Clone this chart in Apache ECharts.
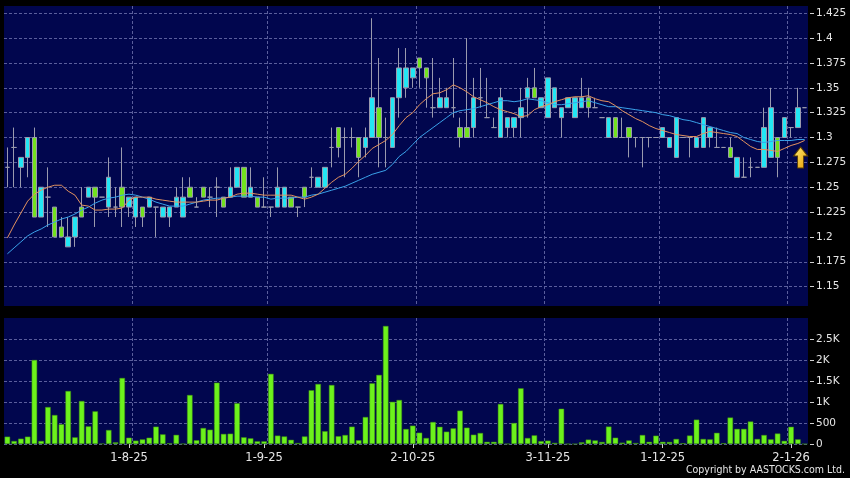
<!DOCTYPE html>
<html><head><meta charset="utf-8">
<script src="https://cdn.jsdelivr.net/npm/echarts@6/dist/echarts.min.js"></script>
<style>html,body{margin:0;padding:0;background:#000;}#c{width:850px;height:478px;}</style>
</head><body><div id="c"></div>
<script>
const dates = [
'8-7-25','9-7-25','10-7-25','11-7-25','14-7-25','15-7-25','16-7-25','17-7-25','18-7-25','21-7-25','22-7-25','23-7-25','24-7-25','25-7-25','28-7-25','29-7-25','30-7-25','31-7-25',
'1-8-25','4-8-25','5-8-25','6-8-25','7-8-25','8-8-25','11-8-25','12-8-25','13-8-25','14-8-25','15-8-25','18-8-25','20-8-25','21-8-25','22-8-25','25-8-25','26-8-25','27-8-25','28-8-25','29-8-25',
'1-9-25','2-9-25','3-9-25','4-9-25','5-9-25','8-9-25','9-9-25','10-9-25','11-9-25','12-9-25','15-9-25','16-9-25','17-9-25','18-9-25','19-9-25','22-9-25','23-9-25','24-9-25','25-9-25','26-9-25','29-9-25','30-9-25',
'2-10-25','3-10-25','6-10-25','8-10-25','9-10-25','10-10-25','13-10-25','14-10-25','15-10-25','16-10-25','17-10-25','20-10-25','21-10-25','22-10-25','23-10-25','24-10-25','27-10-25','28-10-25','30-10-25','31-10-25',
'3-11-25','4-11-25','5-11-25','6-11-25','7-11-25','10-11-25','11-11-25','13-11-25','14-11-25','17-11-25','18-11-25','20-11-25','21-11-25','24-11-25','25-11-25','27-11-25','28-11-25',
'1-12-25','2-12-25','3-12-25','4-12-25','5-12-25','8-12-25','9-12-25','10-12-25','11-12-25','12-12-25','15-12-25','16-12-25','17-12-25','18-12-25','19-12-25','22-12-25','23-12-25','29-12-25','30-12-25',
'2-1-26','5-1-26','6-1-26'];

const opens = [
1.27,1.29,1.27,1.28,1.30,1.22,1.24,1.23,1.21,1.19,
1.20,1.23,1.24,1.25,1.24,1.23,1.23,1.25,1.23,1.22,
1.23,1.23,1.23,1.22,1.22,1.23,1.22,1.25,1.23,1.25,
1.24,1.25,1.24,1.24,1.25,1.27,1.24,1.24,1.23,1.23,
1.23,1.23,1.24,1.23,1.25,1.26,1.25,1.25,1.29,1.31,
1.30,1.30,1.30,1.29,1.30,1.33,1.30,1.29,1.34,1.35,
1.36,1.38,1.37,1.33,1.33,1.33,1.33,1.31,1.31,1.31,
1.34,1.32,1.31,1.30,1.31,1.31,1.32,1.34,1.35,1.33,
1.32,1.33,1.32,1.33,1.32,1.33,1.34,1.33,1.32,1.30,
1.32,1.30,1.31,1.30,1.30,1.30,1.30,1.30,1.29,1.28,
1.30,1.30,1.29,1.29,1.30,1.29,1.29,1.29,1.26,1.26,
1.27,1.27,1.27,1.28,1.30,1.30,1.31,1.31,1.33];

const closes = [
1.27,1.29,1.28,1.30,1.22,1.25,1.24,1.20,1.20,1.20,
1.22,1.22,1.25,1.24,1.24,1.26,1.23,1.23,1.24,1.24,
1.22,1.24,1.23,1.23,1.23,1.24,1.24,1.24,1.23,1.24,
1.24,1.25,1.23,1.25,1.27,1.24,1.25,1.23,1.23,1.23,
1.25,1.25,1.23,1.23,1.24,1.26,1.26,1.27,1.29,1.29,
1.30,1.30,1.28,1.30,1.34,1.30,1.30,1.34,1.37,1.37,
1.37,1.37,1.36,1.33,1.34,1.34,1.33,1.30,1.30,1.34,
1.34,1.32,1.31,1.34,1.32,1.32,1.33,1.35,1.34,1.34,
1.36,1.35,1.33,1.34,1.34,1.34,1.33,1.33,1.32,1.32,
1.30,1.30,1.30,1.30,1.30,1.30,1.30,1.31,1.30,1.32,
1.30,1.30,1.30,1.32,1.31,1.29,1.29,1.28,1.28,1.26,
1.27,1.27,1.31,1.33,1.28,1.32,1.31,1.33,1.33];

const lows = [
1.25,1.25,1.25,1.26,1.22,1.22,1.21,1.20,1.20,1.19,
1.19,1.22,1.24,1.21,1.24,1.22,1.22,1.21,1.22,1.21,
1.21,1.23,1.20,1.22,1.21,1.23,1.22,1.24,1.23,1.24,
1.23,1.22,1.23,1.24,1.25,1.24,1.24,1.23,1.23,1.22,
1.23,1.23,1.23,1.22,1.23,1.25,1.25,1.25,1.27,1.28,
1.26,1.29,1.26,1.28,1.30,1.27,1.27,1.29,1.32,1.34,
1.35,1.35,1.33,1.32,1.33,1.33,1.32,1.29,1.30,1.30,
1.33,1.32,1.31,1.30,1.30,1.30,1.30,1.32,1.34,1.33,
1.32,1.33,1.30,1.33,1.32,1.33,1.32,1.33,1.32,1.30,
1.30,1.30,1.28,1.29,1.27,1.29,1.30,1.30,1.29,1.28,
1.30,1.28,1.29,1.29,1.29,1.29,1.29,1.28,1.26,1.26,
1.26,1.27,1.27,1.28,1.26,1.30,1.30,1.31,1.33];

const highs = [
1.29,1.31,1.28,1.30,1.31,1.25,1.27,1.23,1.22,1.22,
1.22,1.25,1.25,1.25,1.24,1.28,1.25,1.29,1.24,1.24,
1.23,1.24,1.23,1.23,1.23,1.25,1.26,1.26,1.24,1.25,
1.25,1.26,1.24,1.27,1.27,1.27,1.27,1.24,1.26,1.23,
1.27,1.25,1.24,1.23,1.25,1.27,1.26,1.27,1.31,1.31,
1.31,1.31,1.30,1.31,1.42,1.38,1.32,1.34,1.39,1.39,
1.37,1.38,1.37,1.38,1.36,1.35,1.38,1.32,1.40,1.36,
1.37,1.36,1.32,1.35,1.32,1.32,1.35,1.36,1.37,1.34,
1.36,1.35,1.33,1.34,1.34,1.36,1.35,1.34,1.32,1.32,
1.32,1.32,1.31,1.30,1.30,1.30,1.30,1.31,1.30,1.32,
1.30,1.30,1.30,1.32,1.31,1.31,1.29,1.30,1.28,1.28,
1.28,1.27,1.33,1.35,1.30,1.32,1.31,1.35,1.33];

const volumes = [
175,71,127,175,2000,71,880,690,470,1262,
159,1024,420,778,10,333,40,1572,150,80,
110,150,413,230,20,218,5,1167,90,381,
341,1460,240,246,970,160,135,64,64,1670,
200,180,100,24,180,1280,1429,305,1405,186,
214,413,90,643,1445,1645,2810,1005,1048,357,
437,270,143,524,410,294,373,794,389,222,
262,52,52,953,3,500,1326,143,206,68,
80,28,840,0,0,40,105,85,48,415,
150,32,85,24,214,52,198,52,48,120,
20,202,580,120,111,266,20,630,360,360,
536,120,214,111,250,75,410,111,0];

const ma10 = [
1.199,1.212,1.224,1.236,1.243,1.247,1.250,1.252,1.252,1.246,
1.242,1.232,1.231,1.227,1.227,1.228,1.228,1.229,1.237,1.240,
1.240,1.240,1.238,1.237,1.236,1.235,1.235,1.235,1.235,1.236,
1.237,1.237,1.239,1.240,1.243,1.244,1.244,1.243,1.242,1.242,
1.242,1.242,1.242,1.240,1.238,1.240,1.243,1.249,1.255,1.260,
1.263,1.269,1.276,1.282,1.289,1.293,1.297,1.303,1.312,1.320,
1.325,1.333,1.339,1.344,1.345,1.348,1.353,1.350,1.346,1.341,
1.338,1.335,1.331,1.328,1.326,1.324,1.321,1.322,1.328,1.331,
1.333,1.336,1.338,1.340,1.341,1.341,1.342,1.339,1.337,1.336,
1.332,1.327,1.323,1.319,1.316,1.312,1.309,1.307,1.305,1.303,
1.302,1.301,1.301,1.304,1.306,1.305,1.304,1.303,1.301,1.296,
1.291,1.288,1.288,1.287,1.286,1.289,1.292,1.294,1.297];

const ma20 = [
1.183,1.189,1.195,1.201,1.205,1.208,1.212,1.215,1.218,1.220,
1.223,1.227,1.230,1.234,1.237,1.239,1.240,1.242,1.243,1.242,
1.240,1.238,1.235,1.233,1.231,1.231,1.231,1.233,1.235,1.237,
1.238,1.239,1.239,1.240,1.241,1.241,1.241,1.240,1.240,1.238,
1.239,1.239,1.239,1.240,1.240,1.242,1.243,1.245,1.247,1.249,
1.251,1.254,1.257,1.260,1.263,1.265,1.267,1.273,1.281,1.286,
1.293,1.300,1.305,1.310,1.315,1.320,1.325,1.327,1.328,1.329,
1.331,1.333,1.335,1.337,1.337,1.336,1.337,1.339,1.338,1.337,
1.335,1.333,1.333,1.334,1.335,1.336,1.337,1.335,1.333,1.331,
1.331,1.330,1.329,1.328,1.327,1.326,1.325,1.323,1.322,1.320,
1.318,1.317,1.315,1.313,1.311,1.309,1.307,1.305,1.304,1.300,
1.298,1.296,1.295,1.296,1.297,1.297,1.297,1.298,1.298];

const priceTicks = [1.15,1.175,1.2,1.225,1.25,1.275,1.3,1.325,1.35,1.375,1.4,1.425];
const volumeTicks = [0,500,1000,1500,2000,2500];
// vertical month gridlines sit on the left edge of these bars
const gridLineDates = ['4-8-25','2-9-25','3-10-25','3-11-25','1-12-25','2-1-26'];

const month = (i) => dates[i].split('-')[1];
const isMonthStart = (i) => i > 0 && month(i) !== month(i - 1);
const isGridLine = (i) => gridLineDates.indexOf(dates[i]) >= 0;

const GRID_BG = '#01064e';
const GRID_LINE = { color: '#5a5e9c', width: 1, type: [3, 2] };
const LABEL = { color: '#e6e6e6', fontFamily: 'DejaVu Sans', fontSize: 10.5 };

const candles = dates.map((d, i) => [opens[i], closes[i], lows[i], highs[i]]);
const last = dates.length - 1;

const chart = echarts.init(document.getElementById('c'), null, { renderer: 'canvas' });
chart.setOption({
  animation: false,
  backgroundColor: '#000',
  grid: [
    { left: 4, top: 6, width: 804, height: 300, show: true, backgroundColor: GRID_BG, borderWidth: 0 },
    { left: 4, top: 318, width: 804, height: 126, show: true, backgroundColor: GRID_BG, borderWidth: 0 }
  ],
  xAxis: [
    { type: 'category', data: dates, gridIndex: 0, boundaryGap: true,
      axisLine: { show: false }, axisTick: { show: false }, axisLabel: { show: false },
      splitLine: { show: true, interval: isGridLine, showMaxLine: false, lineStyle: GRID_LINE } },
    { type: 'category', data: dates, gridIndex: 1, boundaryGap: true,
      axisLine: { show: false },
      axisTick: { show: true, alignWithLabel: true, interval: isMonthStart, length: 4, lineStyle: { color: '#d0d0d0' } },
      axisLabel: { show: true, interval: isMonthStart, margin: 8, color: '#e6e6e6', fontFamily: 'DejaVu Sans', fontSize: 11.5 },
      splitLine: { show: true, interval: isGridLine, showMaxLine: false, lineStyle: GRID_LINE } }
  ],
  yAxis: [
    { type: 'value', gridIndex: 0, position: 'right', min: 1.1305, max: 1.4323, offset: 2,
      axisLine: { show: false },
      axisTick: { show: true, length: 4, customValues: priceTicks, lineStyle: { color: '#d0d0d0' } },
      axisLabel: Object.assign({ customValues: priceTicks, margin: 6, formatter: (v) => String(+(+v).toFixed(3)) }, LABEL),
      splitLine: { show: true, lineStyle: GRID_LINE } },
    { type: 'value', gridIndex: 1, position: 'right', min: 0, max: 3000, offset: 2,
      axisLine: { show: false },
      axisTick: { show: true, length: 4, customValues: volumeTicks, lineStyle: { color: '#d0d0d0' } },
      axisLabel: Object.assign({ customValues: volumeTicks, margin: 6,
        formatter: (v) => v >= 1000 ? (v / 1000) + 'K' : String(v) }, LABEL),
      splitLine: { show: true, lineStyle: GRID_LINE } }
  ],
  series: [
    { type: 'candlestick', xAxisIndex: 0, yAxisIndex: 0, data: candles, barWidth: 5, z: 2,
      itemStyle: { color: '#22e6f4', color0: '#72e21e', borderColor: '#9a9aae', borderColor0: '#9a9aae',
                   borderColorDoji: '#9a9aae', borderWidth: 1 } },
    { type: 'line', xAxisIndex: 0, yAxisIndex: 0, data: ma20, symbol: 'none', z: 3,
      lineStyle: { color: '#3aa2ea', width: 1 } },
    { type: 'line', xAxisIndex: 0, yAxisIndex: 0, data: ma10, symbol: 'none', z: 4,
      lineStyle: { color: '#e3925f', width: 1 },
      markPoint: {
        symbol: 'path://M7,0 L14,9 L10,9 L10,21 L4,21 L4,9 L0,9 Z',
        symbolSize: [14, 21], symbolOffset: [-4, 17], label: { show: false }, silent: true,
        itemStyle: { color: { type: 'linear', x: 0, y: 0, x2: 1, y2: 1,
          colorStops: [{ offset: 0, color: '#fff07a' }, { offset: 1, color: '#e49a00' }] },
          borderColor: '#5a3c00', borderWidth: 1 },
        data: [{ coord: [dates[last], ma10[last]] }]
      } },
    { type: 'bar', xAxisIndex: 1, yAxisIndex: 1, data: volumes, barWidth: 5.5,
      itemStyle: { color: '#6cf21c', borderColor: '#3e8a12', borderWidth: 0.5 } }
  ],
  graphic: [
    { type: 'text', right: 5, top: 465, silent: true,
      style: { text: 'Copyright by AASTOCKS.com Ltd.', fill: '#e6e6e6',
               font: '10.5px "DejaVu Sans Condensed", "DejaVu Sans", sans-serif' } }
  ]
});
</script>
</body></html>
